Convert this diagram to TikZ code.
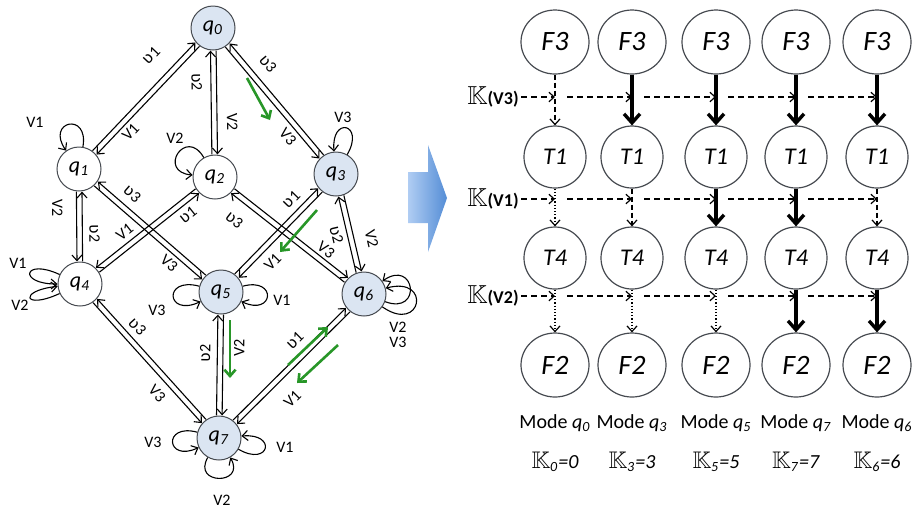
\documentclass[tikz,border=0pt]{standalone}
\usepackage{amssymb}
\usepackage{fontspec}
\setmainfont{Carlito}
\newfontfamily\ipafont{DejaVu Sans}
\usetikzlibrary{arrows.meta, calc, shapes.geometric}

\definecolor{modefill}{RGB}{219,229,242}
\definecolor{nodeline}{RGB}{70,74,80}
\definecolor{hintgreen}{RGB}{40,150,40}
\definecolor{arrowlight}{RGB}{176,205,243}
\definecolor{arrowdark}{RGB}{84,141,214}

\newcommand{\vhook}[1]{{\ipafont ʋ}#1}
\newcommand{\qmode}[1]{\textit{q}\textsubscript{\textit{#1}}}

\begin{document}
\begin{tikzpicture}[x=0.5pt, y=-0.5pt,
    >={Straight Barb[length=2.8pt,width=5pt]},
    qstate/.style={circle, draw=nodeline, line width=0.5pt, fill=white,
                   minimum size=22pt, inner sep=0pt, font=\fontsize{11}{12}\selectfont},
    qfilled/.style={fill=modefill},
    trans/.style={->, line width=0.55pt, shorten <=11.3pt, shorten >=11.3pt},
    selfloop/.style={->, line width=0.55pt},
    lbl/.style={font=\fontsize{8}{9}\selectfont, inner sep=0.5pt},
    greenhint/.style={-{Straight Barb[length=3.2pt,width=5.6pt]}, draw=hintgreen, line width=1.3pt},
    fnode/.style={ellipse, draw=nodeline, line width=0.6pt, minimum width=34pt, minimum height=32pt,
                  inner sep=0pt, font=\fontsize{14}{15}\selectfont\itshape},
    tnode/.style={circle, draw=nodeline, line width=0.6pt, minimum size=31pt,
                  inner sep=0pt, font=\fontsize{12}{13}\selectfont\itshape},
    flowbold/.style={-{Straight Barb[length=4.5pt,width=8pt]}, line width=1.7pt},
    flowdash/.style={->, line width=0.6pt, dash pattern=on 2.5pt off 1.5pt},
    flowdot/.style={->, line width=0.6pt, dash pattern=on 0.6pt off 1pt},
    kflow/.style={-{Straight Barb[length=2.6pt,width=4.8pt]}, line width=0.6pt, dash pattern=on 3pt off 2pt},
    krow/.style={font=\fontsize{9}{10}\selectfont, inner sep=1pt, anchor=east},
    modetext/.style={font=\fontsize{10}{11}\selectfont, inner sep=1pt}
]
\useasboundingbox (0,0) rectangle (915,511);

% mode graph
\node[qstate, qfilled] (q0) at (213,28) {\qmode{0}};
\node[qstate] (q1) at (79,169) {\qmode{1}};
\node[qstate] (q2) at (215,177) {\qmode{2}};
\node[qstate, qfilled] (q3) at (336,174) {\qmode{3}};
\node[qstate] (q4) at (80,284) {\qmode{4}};
\node[qstate, qfilled] (q5) at (221,292) {\qmode{5}};
\node[qstate, qfilled] (q6) at (364,294) {\qmode{6}};
\node[qstate, qfilled] (q7) at (219,438) {\qmode{7}};

\foreach \a/\b/\t/\p/\s/\d in {
    q1/q0/\vhook{1}/0.68/90/13, q0/q1/V1/0.68/90/6,
    q2/q0/\vhook{2}/0.64/90/8.5, q0/q2/V2/0.63/90/9,
    q3/q0/\vhook{3}/0.67/-90/9.5, q0/q3/V3/0.69/-90/6.5,
    q1/q4/V2/0.34/-90/11, q4/q1/\vhook{2}/0.44/-90/7.5,
    q5/q1/\vhook{3}/0.70/-90/8, q1/q5/V3/0.69/-90/6,
    q4/q2/\vhook{1}/0.74/-90/6.5, q2/q4/V1/0.61/-90/6.5,
    q6/q2/\vhook{3}/0.78/90/11, q2/q6/V3/0.70/90/5.5,
    q5/q3/\vhook{1}/0.70/90/7, q3/q5/V1/0.65/90/8,
    q6/q3/\vhook{2}/0.52/90/6.5, q3/q6/V2/0.58/90/10,
    q7/q4/\vhook{3}/0.66/-90/7, q4/q7/V3/0.64/-90/8,
    q7/q5/\vhook{2}/0.58/90/7.5, q5/q7/V2/0.38/90/9.5,
    q7/q6/\vhook{1}/0.60/90/8, q6/q7/V1/0.61/90/12} {
    \draw[trans] ($(\a)!1.4pt!\s:(\b)$) -- ($(\b)!-1.4pt!\s:(\a)$);
    \path ($(\a)!\d pt!\s:(\b)$) -- ($(\b)!-\d pt!\s:(\a)$)
        node[lbl, sloped, pos=\p] (l\a\b) {\t};
}

% self-loops
\draw[selfloop] (q1) to[out=80, in=125, min distance=18pt] (q1);
\draw[selfloop] (q2) to[out=120, in=175, min distance=18pt] (q2);
\draw[selfloop] (q3) to[out=60, in=95, min distance=18pt] (q3);
\draw[selfloop] (q4) to[out=155, in=180, min distance=20pt] (q4);
\draw[selfloop] (q4) to[out=205, in=186, min distance=20pt] (q4);
\draw[selfloop] (q5) to[out=165, in=205, min distance=19pt] (q5);
\draw[selfloop] (q5) to[out=15, in=-25, min distance=18pt] (q5);
\draw[selfloop] (q6) to[out=-20, in=35, min distance=20pt] (q6);
\draw[selfloop] (q6) to[out=-35, in=15, min distance=24pt] (q6);
\draw[selfloop] (q7) to[out=165, in=205, min distance=18pt] (q7);
\draw[selfloop] (q7) to[out=-30, in=5, min distance=18pt] (q7);
\draw[selfloop] (q7) to[out=-120, in=-60, min distance=16pt] (q7);
\node[lbl] (lq1) at (35,122) {V1};
\node[lbl] (lq2) at (175,138) {V2};
\node[lbl] (lq3) at (343,117) {V3};
\node[lbl] (lq4a) at (18,263) {V1};
\node[lbl] (lq4b) at (20,305) {V2};
\node[lbl] (lq5a) at (157,310) {V3};
\node[lbl] (lq5b) at (282,300) {V1};
\node[lbl] (lq6a) at (398,327) {V2};
\node[lbl] (lq6b) at (398,342) {V3};
\node[lbl] (lq7a) at (153,442) {V3};
\node[lbl] (lq7b) at (285,447) {V1};
\node[lbl] (lq7c) at (222,500) {V2};

% green hints
\draw[greenhint] (247,78) -- (270,120);
\draw[greenhint] (317,210) -- (280,252);
\draw[greenhint] (230,320) -- (230,378);
\draw[greenhint] (288,365) -- (328,327);
\draw[greenhint] (338,345) -- (297,383);

% big arrow
\shade[left color=arrowlight, right color=arrowdark]
    (408,172) -- (428,172) -- (428,145) -- (447,198) -- (428,252) -- (428,223) -- (408,223) -- cycle;

% task columns
\foreach \m/\x in {0/555,3/632,5/716,7/796,6/877} {
    \node[fnode] (top\m) at (\x,42) {F3};
    \node[tnode] (tone\m) at (\x,157) {T1};
    \node[tnode] (tfour\m) at (\x,258) {T4};
    \node[fnode] (bot\m) at (\x,365) {F2};
    \node[modetext] (mode\m) at (\x,423) {Mode \qmode{\m}};
    \node[modetext] (kval\m) at (\x,462)
        {{\fontsize{12}{13}\selectfont$\mathbb{K}$}\textsubscript{\textit{\m}}\textit{=\m}};
    \coordinate (rowa\m) at (\x,97);
    \coordinate (rowb\m) at (\x,199);
    \coordinate (rowc\m) at (\x,296);
}
\foreach \m/\sa/\sb/\sc in {0/flowdash/flowdot/flowdot, 3/flowbold/flowdash/flowdot,
    5/flowbold/flowbold/flowdot, 7/flowbold/flowbold/flowbold, 6/flowbold/flowdash/flowbold} {
    \draw[\sa] (top\m) -- (tone\m);
    \draw[\sb] (tone\m) -- (tfour\m);
    \draw[\sc] (tfour\m) -- (bot\m);
}

% K rows
\foreach \r/\y/\v in {a/97/3, b/199/1, c/296/2} {
    \node[krow] (k\r) at (521,\y) {{\fontsize{13}{14}\selectfont$\mathbb{K}$}\textbf{(V\v)}};
    \draw[kflow] (k\r) -- (row\r0);
    \foreach \p/\q in {0/3, 3/5, 5/7, 7/6} {
        \draw[kflow] ([xshift=6pt]row\r\p) -- (row\r\q);
    }
}
\end{tikzpicture}
\end{document}
